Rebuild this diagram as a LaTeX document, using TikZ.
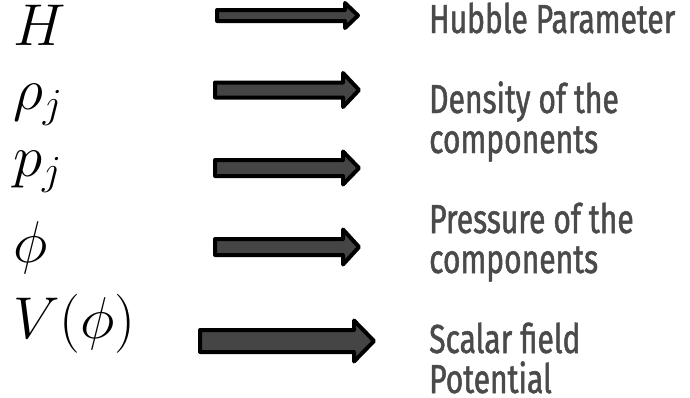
\RequirePackage{fix-cm}
\documentclass[tikz,border=0pt]{standalone}
\usepackage{fontspec}
\newfontfamily\labelfont[FakeStretch=0.74,FakeBold=1.2]{Fira Sans}
\definecolor{txtgray}{HTML}{4A4A4A}
\definecolor{arrowfill}{HTML}{454545}
\tikzset{
  mathlbl/.style={anchor=base west, inner sep=0pt, font=\fontsize{59}{64}\selectfont},
  desclbl/.style={anchor=base west, inner sep=0pt, align=left, text=txtgray,
    font=\labelfont\fontsize{40.6}{40}\selectfont},
  blockarrow/.style={draw=black, fill=arrowfill, line width=4pt, line join=round}
}
% #1 tail x, #2 head start x, #3 tip x, #4 centre y, #5 shaft half, #6 head half
\newcommand{\blockarr}[6]{%
  \draw[blockarrow] (#1,#4-#5) -- (#2,#4-#5) -- (#2,#4-#6) -- (#3,#4)
    -- (#2,#4+#6) -- (#2,#4+#5) -- (#1,#4+#5) -- cycle;}
\begin{document}
\begin{tikzpicture}[x=1pt,y=-1pt]
\useasboundingbox (0,0) rectangle (690,397);
\node[mathlbl] (H) at (13,45) {$H$};
\node[mathlbl] (rho) at (13,109) {$\rho_j$};
\node[mathlbl] (p) at (13,176) {$p_j$};
\node[mathlbl] (phi) at (13,262) {$\phi$};
\node[mathlbl] (V) at (13,338) {$V(\phi)$};

\blockarr{217}{345}{358}{15.5}{5.5}{12.5}
\blockarr{215}{343}{359}{90}{7.5}{17}
\blockarr{215}{343}{359}{168}{8}{16.5}
\blockarr{215}{343}{359}{247}{8}{17.5}
\blockarr{200}{354}{374}{341}{11}{20.5}

\node[desclbl] (t1) at (429,33) {Hubble Parameter};
\node[desclbl] (t2) at (429,153) {Density of the\\components};
\node[desclbl] (t3) at (429,273) {Pressure of the\\components};
\node[desclbl] (t4) at (429,393) {Scalar field\\Potential};
\end{tikzpicture}
\end{document}
